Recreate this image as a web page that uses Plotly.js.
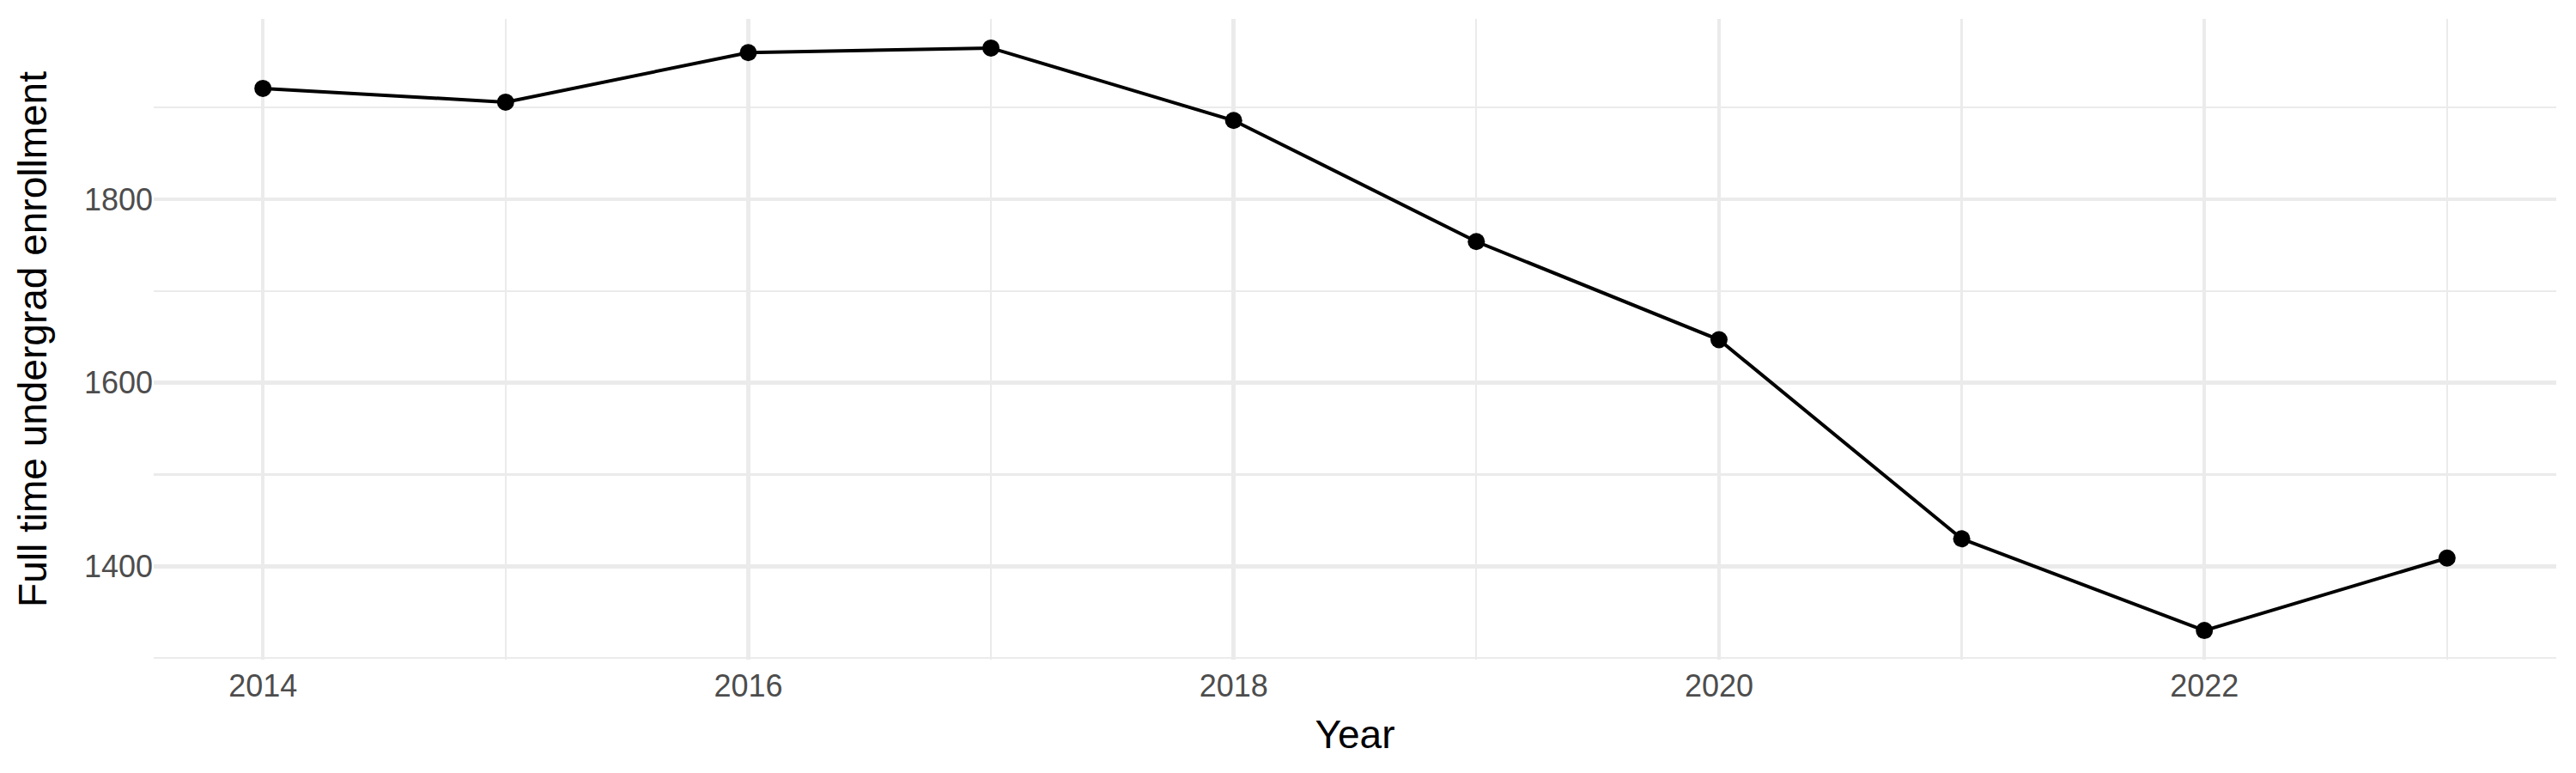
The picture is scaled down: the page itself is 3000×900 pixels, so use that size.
<!DOCTYPE html>
<html>
<head>
<meta charset="utf-8">
<script src="https://cdn.plot.ly/plotly-3.0.1.min.js"></script>
<style>
  html, body { margin: 0; padding: 0; background: #fff; }
  #chart { width: 3000px; height: 900px; }
</style>
</head>
<body>
<div id="chart"></div>
<script>
// Full time undergrad enrollment by year
const years = [2014, 2015, 2016, 2017, 2018, 2019, 2020, 2021, 2022, 2023];
const enrollment = [1921, 1906, 1960, 1965, 1886, 1754, 1647, 1430, 1330, 1409];

const xTickVals = [2014, 2016, 2018, 2020, 2022];
const xTickText = ["2014", "2016", "2018", "2020", "2022"];
const xMinorVals = [2015, 2017, 2019, 2021, 2023];
const yTickVals = [1400, 1600, 1800];
const yTickText = ["1400", "1600", "1800"];
const yMinorVals = [1300, 1500, 1700, 1900];

const GRID = "#EBEBEB";
const FONT = "Liberation Sans, Arial, Helvetica, sans-serif";

const trace = {
    x: years,
    y: enrollment,
    type: "scatter",
    mode: "lines+markers",
    line: { color: "#000", width: 4 },
    marker: { color: "#000", size: 20 },
    hoverinfo: "x+y",
    showlegend: false,
};

const layout = {
    width: 3000,
    height: 900,
    paper_bgcolor: "#fff",
    plot_bgcolor: "#fff",
    font: { family: FONT, color: "#000" },
    margin: { l: 179, r: 23, t: 22, b: 132 },
    showlegend: false,
    xaxis: {
        range: [2013.55, 2023.45],
        tickmode: "array",
        tickvals: xTickVals,
        ticktext: xTickText,
        tickfont: { size: 36, color: "#4D4D4D", family: FONT },
        ticklabelstandoff: 6,
        ticks: "",
        showline: false,
        zeroline: false,
        showgrid: true,
        gridcolor: GRID,
        gridwidth: 4.5,
        minor: { tickmode: "array", tickvals: xMinorVals, showgrid: true, gridcolor: GRID, gridwidth: 2.3 },
        automargin: false,
        title: { text: "Year", font: { size: 46, color: "#000", family: FONT }, standoff: 20 },
    },
    yaxis: {
        range: [1298.25, 1996.75],
        tickmode: "array",
        tickvals: yTickVals,
        ticktext: yTickText,
        tickfont: { size: 36, color: "#4D4D4D", family: FONT },
        ticks: "",
        showline: false,
        zeroline: false,
        showgrid: true,
        gridcolor: GRID,
        gridwidth: 4.5,
        minor: { tickmode: "array", tickvals: yMinorVals, showgrid: true, gridcolor: GRID, gridwidth: 2.3 },
        automargin: false,
        title: { text: "Full time undergrad enrollment", font: { size: 46, color: "#000", family: FONT }, standoff: 28 },
    },
};

Plotly.newPlot("chart", [trace], layout, { displayModeBar: false, staticPlot: true });
</script>
</body>
</html>
